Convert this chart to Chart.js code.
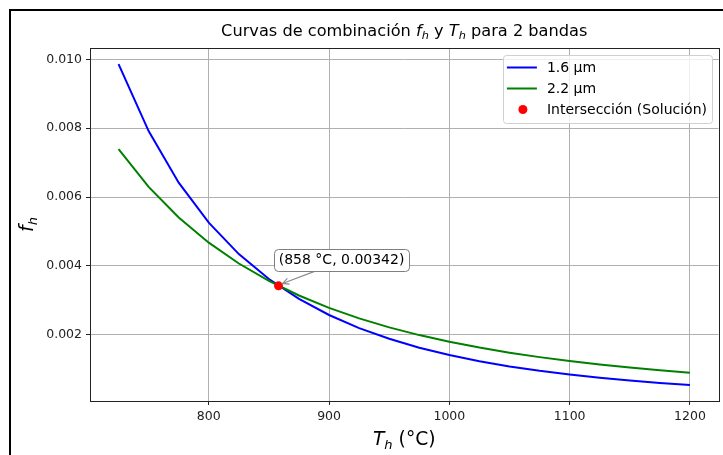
<!DOCTYPE html>
<html><head><meta charset="utf-8">
<script src="https://cdn.jsdelivr.net/npm/chart.js@4.4.0/dist/chart.umd.min.js"></script>
<style>html,body{margin:0;padding:0;background:#fff;overflow:hidden}canvas{display:block}</style>
</head><body>
<canvas id="c" width="723" height="455"></canvas>
<script>
// ---- data ----
const temperaturesC = [725,750,775,800,825,850,875,900,925,950,975,1000,1025,1050,1075,1100,1125,1150,1175,1200];
const fh16 = [0.009865,0.007916,0.006419,0.005256,0.004343,0.003619,0.003040,0.002573,0.002193,0.001881,0.001623,0.001409,0.001230,0.001079,0.000951,0.000843,0.000749,0.000669,0.000600,0.000540];
const fh22 = [0.007390,0.006297,0.005406,0.004674,0.004069,0.003564,0.003140,0.002781,0.002475,0.002214,0.001989,0.001795,0.001626,0.001478,0.001349,0.001235,0.001134,0.001044,0.000964,0.000894];
const intersectionT = [858];
const intersectionF = [0.00342];
const xTickValues = [800,900,1000,1100,1200];
const yTickValues = [0.002,0.004,0.006,0.008,0.010];
const seriesLabels = ['1.6 μm','2.2 μm','Intersección (Solución)'];
const seriesColors = ['#0000ff','#008000','#ff0000'];

const FAM = '"DejaVu Sans", sans-serif';

function fontStr(p, size){ const s = p.sub ? size*0.7 : size; return (p.it ? 'italic ' : '') + s + 'px ' + FAM; }
function drawMath(ctx, parts, cx, baseline, size){
  let w = 0;
  for (const p of parts){ ctx.font = fontStr(p,size); w += ctx.measureText(p.t).width; }
  let xx = cx - w/2;
  ctx.textAlign = 'left'; ctx.textBaseline = 'alphabetic';
  for (const p of parts){
    ctx.font = fontStr(p,size);
    ctx.fillText(p.t, xx, baseline + (p.sub ? size*0.21 : 0));
    xx += ctx.measureText(p.t).width;
  }
}
function roundRect(ctx, x, y, w, h, r){
  ctx.beginPath();
  ctx.moveTo(x+r,y); ctx.lineTo(x+w-r,y); ctx.quadraticCurveTo(x+w,y,x+w,y+r);
  ctx.lineTo(x+w,y+h-r); ctx.quadraticCurveTo(x+w,y+h,x+w-r,y+h);
  ctx.lineTo(x+r,y+h); ctx.quadraticCurveTo(x,y+h,x,y+h-r);
  ctx.lineTo(x,y+r); ctx.quadraticCurveTo(x,y,x+r,y); ctx.closePath();
}

const decor = {
  id:'decor',
  afterDraw(chart){
    const {ctx, chartArea:a, scales:{x, y}} = chart;
    ctx.save();
    // spines
    ctx.strokeStyle = '#222'; ctx.lineWidth = 1;
    ctx.strokeRect(Math.round(a.left)+0.5, Math.round(a.top)+0.5, Math.round(a.right-a.left), Math.round(a.bottom-a.top));
    // figure frame
    ctx.strokeStyle = '#000'; ctx.lineWidth = 2;
    ctx.beginPath(); ctx.moveTo(10, 460); ctx.lineTo(10, 10); ctx.lineTo(730, 10); ctx.stroke();

    const cx = (a.left + a.right)/2;
    ctx.fillStyle = '#000';
    // title
    drawMath(ctx, [{t:'Curvas de combinación '},{t:'f',it:1},{t:'h',it:1,sub:1},{t:' y '},{t:'T',it:1},{t:'h',it:1,sub:1},{t:' para 2 bandas'}], cx, 35.5, 16.2);
    // x label
    drawMath(ctx, [{t:'T',it:1},{t:'h',it:1,sub:1},{t:' (°C)'}], cx, 445, 18.7);
    // y label
    ctx.save();
    ctx.translate(33, (a.top + a.bottom)/2);
    ctx.rotate(-Math.PI/2);
    drawMath(ctx, [{t:'f',it:1},{t:'h',it:1,sub:1}], 0, 0, 18.7);
    ctx.restore();

    // annotation
    const px = x.getPixelForValue(intersectionT[0]);
    const py = y.getPixelForValue(intersectionF[0]);
    const label = '(' + intersectionT[0] + ' °C, ' + intersectionF[0].toFixed(5) + ')';
    ctx.font = '14px ' + FAM;
    const tw = ctx.measureText(label).width;
    const bcx = px + 63, bcy = py - 26;
    const bw = tw + 9, bh = 22;
    const bx = bcx - bw/2, by = bcy - bh/2;
    // arrow
    const ex = px + 4, ey = py - 2.4;
    const sx = bcx - 27, sy = by + bh + 0.5;
    ctx.strokeStyle = '#8a8a8a'; ctx.lineWidth = 1.2;
    ctx.beginPath(); ctx.moveTo(sx, sy); ctx.lineTo(ex, ey); ctx.stroke();
    const ang = Math.atan2(ey - sy, ex - sx);
    const hl = 7, hw = 0.45;
    ctx.beginPath();
    ctx.moveTo(ex - hl*Math.cos(ang - hw), ey - hl*Math.sin(ang - hw));
    ctx.lineTo(ex, ey);
    ctx.lineTo(ex - hl*Math.cos(ang + hw), ey - hl*Math.sin(ang + hw));
    ctx.stroke();
    // box
    roundRect(ctx, Math.round(bx)+0.5, Math.round(by)+0.5, Math.round(bw), Math.round(bh), 4);
    ctx.fillStyle = '#fff'; ctx.fill();
    ctx.strokeStyle = '#7f7f7f'; ctx.lineWidth = 1; ctx.stroke();
    ctx.fillStyle = '#000'; ctx.textAlign = 'center'; ctx.textBaseline = 'middle';
    ctx.fillText(label, bcx, bcy + 1);

    // legend
    ctx.font = '14px ' + FAM;
    let maxW = 0;
    for (const s of seriesLabels) maxW = Math.max(maxW, ctx.measureText(s).width);
    const lw = 4 + 30 + 10 + maxW + 4.5;
    const lh = 67.5;
    const lx = a.right - 7 - lw, ly = a.top + 7;
    roundRect(ctx, Math.round(lx)+0.5, Math.round(ly)+0.5, Math.round(lw), Math.round(lh), 3);
    ctx.fillStyle = 'rgba(255,255,255,0.8)'; ctx.fill();
    ctx.strokeStyle = '#d0d0d0'; ctx.lineWidth = 1; ctx.stroke();
    for (let i = 0; i < seriesLabels.length; i++){
      const ry = ly + 12.5 + i*21;
      const hx = lx + 4;
      if (i < 2){
        ctx.strokeStyle = seriesColors[i]; ctx.lineWidth = 2;
        ctx.beginPath(); ctx.moveTo(hx, ry); ctx.lineTo(hx + 30, ry); ctx.stroke();
      } else {
        ctx.fillStyle = seriesColors[i];
        ctx.beginPath(); ctx.arc(hx + 16, ry, 4.5, 0, Math.PI*2); ctx.fill();
      }
      ctx.fillStyle = '#000'; ctx.textAlign = 'left'; ctx.textBaseline = 'middle';
      ctx.fillText(seriesLabels[i], hx + 40, ry + 1);
    }
    ctx.restore();
  }
};

const tickFont = {family: FAM, size: 12.5};
new Chart(document.getElementById('c').getContext('2d'), {
  type: 'line',
  data: {
    datasets: [
      {label: seriesLabels[0], data: temperaturesC.map((t,i)=>({x:t, y:fh16[i]})), borderColor: seriesColors[0], backgroundColor: seriesColors[0], borderWidth: 2, pointRadius: 0, tension: 0, fill: false, order: 2},
      {label: seriesLabels[1], data: temperaturesC.map((t,i)=>({x:t, y:fh22[i]})), borderColor: seriesColors[1], backgroundColor: seriesColors[1], borderWidth: 2, pointRadius: 0, tension: 0, fill: false, order: 1},
      {type: 'scatter', label: seriesLabels[2], data: intersectionT.map((t,i)=>({x:t, y:intersectionF[i]})), backgroundColor: seriesColors[2], borderColor: seriesColors[2], borderWidth: 0, pointRadius: 4.5, order: 0}
    ]
  },
  options: {
    responsive: false, animation: false, devicePixelRatio: 1,
    layout: {padding: {top: 48, right: 2, bottom: 0, left: 0}},
    plugins: {legend: {display: false}, title: {display: false}, tooltip: {enabled: false}},
    events: [],
    scales: {
      x: {
        type: 'linear', min: 701.25, max: 1223.75,
        afterBuildTicks: s => { s.ticks = xTickValues.map(v => ({value: v})); },
        afterFit: s => { s.height = 54; s.paddingLeft = 0; s.paddingRight = 0; },
        grid: {color: '#b0b0b0', lineWidth: 1, tickColor: '#222', tickLength: 4},
        border: {display: false},
        ticks: {font: tickFont, color: '#222', padding: 4, maxRotation: 0, autoSkip: false, callback: v => String(v)}
      },
      y: {
        type: 'linear', min: 0.000074, max: 0.010331,
        afterBuildTicks: s => { s.ticks = yTickValues.map(v => ({value: v})); },
        afterFit: s => { s.width = 90; s.paddingTop = 0; s.paddingBottom = 0; },
        grid: {color: '#b0b0b0', lineWidth: 1, tickColor: '#222', tickLength: 4},
        border: {display: false},
        ticks: {font: tickFont, color: '#222', padding: 4, autoSkip: false, callback: v => v.toFixed(3)}
      }
    }
  },
  plugins: [decor]
});
</script>
</body></html>
